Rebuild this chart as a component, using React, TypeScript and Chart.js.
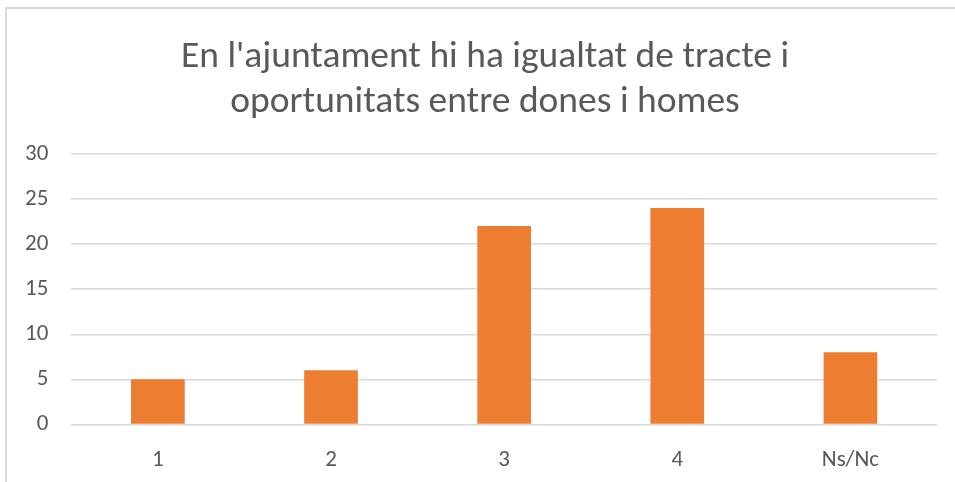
import React, { useEffect, useRef } from "react";
import { Chart, registerables } from "chart.js";

Chart.register(...registerables);

const categories = ["1", "2", "3", "4", "Ns/Nc"];
const values = [5, 6, 22, 24, 8];
const titleLines = ["En l'ajuntament hi ha igualtat de tracte i", "oportunitats entre dones i homes"];
const yMin = 0;
const yMax = 30;
const yStep = 5;

const FONT = "Carlito, 'Open Sans', 'Noto Sans', sans-serif";

const unclipYLabels = {
  id: "unclipYLabels",
  afterLayout(chart: any) {
    const y = chart.scales.y;
    if (y) y.left = 0;
  },
};

export default function App() {
  const ref = useRef<HTMLCanvasElement | null>(null);
  useEffect(() => {
    if (!ref.current) return;
    const chart = new Chart(ref.current, {
      type: "bar",
      data: {
        labels: categories,
        datasets: [
          {
            data: values,
            backgroundColor: "#ED7D31",
            borderWidth: 0,
            categoryPercentage: 1,
            barPercentage: 0.31,
          },
        ],
      },
      plugins: [unclipYLabels],
      options: {
        responsive: false,
        animation: false,
        layout: { padding: { left: 33, right: 18, top: 35, bottom: 4 } },
        plugins: {
          legend: { display: false },
          tooltip: { enabled: false },
          title: {
            display: true,
            text: titleLines,
            color: "#595959",
            font: { family: FONT, size: 37.5, weight: "normal", lineHeight: 1.2 },
            padding: { top: 0, bottom: 29 },
          },
        },
        scales: {
          x: {
            grid: { display: false, drawTicks: false },
            border: { display: false },
            ticks: { color: "#595959", font: { family: FONT, size: 23 }, padding: 22 },
          },
          y: {
            min: yMin,
            max: yMax,
            grid: { color: "#d9d9d9", lineWidth: 1.5, drawTicks: false },
            border: { display: false },
            ticks: { stepSize: yStep, color: "#595959", font: { family: FONT, size: 23 }, padding: 23 },
            afterFit: (axis: any) => {
              axis.width = axis.width - 31;
            },
          },
        },
      },
    });
    return () => chart.destroy();
  }, []);
  return (
    <div style={{ position: "fixed", left: 0, top: 0, width: 955, height: 482, overflow: "hidden", background: "#fff" }}>
      <div
        style={{
          position: "absolute",
          left: 5,
          top: 7,
          width: 1000,
          height: 600,
          border: "2px solid #d9d9d9",
          boxSizing: "border-box",
        }}
      />
      <canvas ref={ref} width={955} height={500} style={{ position: "absolute", left: 0, top: 0 }} />
    </div>
  );
}
